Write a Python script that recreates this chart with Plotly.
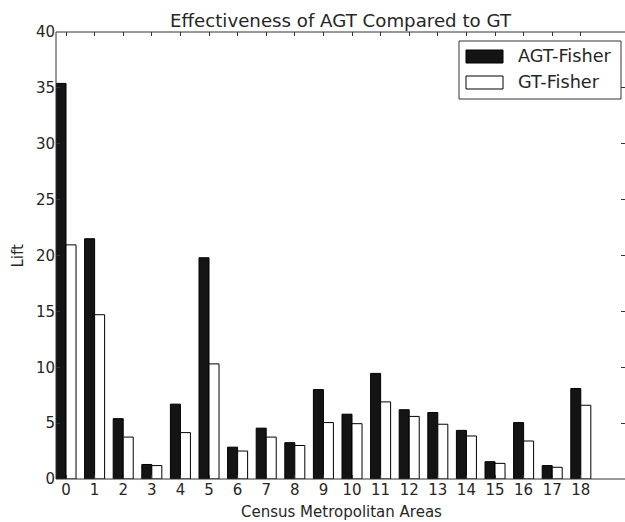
import plotly.graph_objects as go

areas = list(range(19))
agt_fisher = [35.4, 21.5, 5.4, 1.3, 6.7, 19.8, 2.85, 4.55, 3.25, 8.0, 5.8, 9.45, 6.2, 5.95, 4.35, 1.55, 5.05, 1.2, 8.1]
gt_fisher = [20.95, 14.7, 3.75, 1.2, 4.15, 10.3, 2.5, 3.75, 3.0, 5.05, 4.95, 6.9, 5.6, 4.9, 3.85, 1.4, 3.4, 1.05, 6.6]
y_ticks = [0, 5, 10, 15, 20, 25, 30, 35, 40]

W, H = 625, 522
L, R, T, B = 56, 0, 32, 43
PW, PH = W - L - R, H - T - B

def fx(px):
    return (px - L) / PW

def fy(py):
    return (H - B - py) / PH

FONT = "DejaVu Sans"
TXT = "#262626"

fig = go.Figure()
fig.add_trace(go.Bar(x=areas, y=agt_fisher, offset=-0.35, width=0.35, name="AGT-Fisher",
                     marker=dict(color="#141414", line=dict(color="#000000", width=1))))
fig.add_trace(go.Bar(x=areas, y=gt_fisher, offset=0.0, width=0.35, name="GT-Fisher",
                     marker=dict(color="#ffffff", line=dict(color="#000000", width=1))))

shapes = [
    dict(type="line", xref="paper", yref="paper", x0=0, x1=0, y0=0, y1=1, line=dict(color="#333333", width=1)),
    dict(type="line", xref="paper", yref="paper", x0=0, x1=1, y0=0, y1=0, line=dict(color="#333333", width=1)),
    dict(type="line", xref="paper", yref="paper", x0=0, x1=1, y0=1, y1=1, line=dict(color="#333333", width=1)),
    # legend
    dict(type="rect", xref="paper", yref="paper", x0=fx(459), x1=fx(621), y0=fy(99), y1=fy(41),
         line=dict(color="#333333", width=1), fillcolor="#ffffff"),
    dict(type="rect", xref="paper", yref="paper", x0=fx(466), x1=fx(503), y0=fy(63), y1=fy(50),
         line=dict(color="#000000", width=1), fillcolor="#141414"),
    dict(type="rect", xref="paper", yref="paper", x0=fx(466), x1=fx(503), y0=fy(89), y1=fy(76),
         line=dict(color="#000000", width=1), fillcolor="#ffffff"),
]

annotations = [
    dict(text="AGT-Fisher", xref="paper", yref="paper", x=fx(516), y=fy(56), xanchor="left", yanchor="middle",
         showarrow=False, font=dict(family=FONT, size=17.7, color=TXT)),
    dict(text="GT-Fisher", xref="paper", yref="paper", x=fx(516), y=fy(82), xanchor="left", yanchor="middle",
         showarrow=False, font=dict(family=FONT, size=17.7, color=TXT)),
    dict(text="Lift", xref="paper", yref="paper", x=fx(17), y=0.5, xanchor="center", yanchor="middle",
         textangle=-90, showarrow=False, font=dict(family=FONT, size=15, color=TXT)),
    dict(text="Census Metropolitan Areas", xref="paper", yref="paper", x=fx(341), y=fy(512),
         xanchor="center", yanchor="middle", showarrow=False, font=dict(family=FONT, size=15, color=TXT)),
    dict(text="Effectiveness of AGT Compared to GT", xref="paper", yref="paper", x=fx(341), y=fy(20),
         xanchor="center", yanchor="middle", showarrow=False, font=dict(family=FONT, size=18.2, color=TXT)),
]

fig.update_layout(
    width=W, height=H,
    margin=dict(l=L, r=R, t=T, b=B, pad=0),
    barmode="overlay",
    showlegend=False,
    plot_bgcolor="#ffffff", paper_bgcolor="#ffffff",
    shapes=shapes, annotations=annotations,
    font=dict(family=FONT, size=15, color=TXT),
)
fig.update_xaxes(range=[-0.35, -0.35 + PW / 28.6], tickvals=areas, ticktext=[str(a) for a in areas],
                 ticks="inside", ticklen=4, tickcolor="#333333", mirror="ticks", showline=False,
                 showgrid=False, zeroline=False, tickfont=dict(family=FONT, size=15, color=TXT))
fig.update_yaxes(range=[0, 40], tickvals=y_ticks, ticks="inside", ticklen=4, tickcolor="#333333",
                 mirror="ticks", showline=False, showgrid=False, zeroline=False,
                 tickfont=dict(family=FONT, size=15, color=TXT))

fig.write_html("out.html", config={"displayModeBar": False},
               post_script="document.body.style.margin='0';document.body.style.overflow='hidden';")
